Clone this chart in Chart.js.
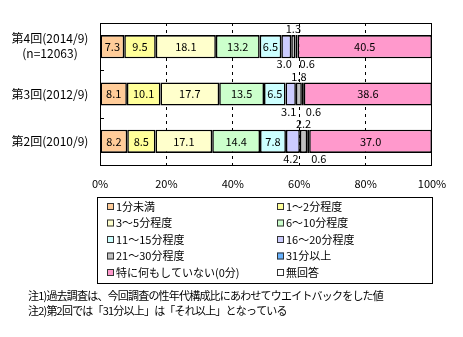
<!DOCTYPE html>
<html><head><meta charset="utf-8">
<script src="https://cdn.jsdelivr.net/npm/chart.js@4/dist/chart.umd.min.js"></script>
<style>html,body{margin:0;padding:0;background:#fff}#wrap{width:463px;height:337px;position:relative}</style>
</head><body><div id="wrap"><canvas id="c" width="463" height="337"></canvas></div>
<script>
const categories = ['第4回(2014/9)', '第3回(2012/9)', '第2回(2010/9)'];
const subLabels = ['(n=12063)', '', ''];
const seriesNames = ['1分未満','1～2分程度','3～5分程度','6～10分程度','11～15分程度','16～20分程度','21～30分程度','31分以上','特に何もしていない(0分)','無回答'];
const under1 = [7.3, 8.1, 8.2];
const m1to2 = [9.5, 10.1, 8.5];
const m3to5 = [18.1, 17.7, 17.1];
const m6to10 = [13.2, 13.5, 14.4];
const m11to15 = [6.5, 6.5, 7.8];
const m16to20 = [3.0, 3.1, 4.2];
const m21to30 = [1.3, 1.8, 2.2];
const m31plus = [0.6, 0.6, 0.6];
const nothing = [40.5, 38.6, 37.0];
const noAnswer = [0, 0, 0];
const xTicks = [0, 20, 40, 60, 80, 100];
const notes = ['注1)過去調査は、今回調査の性年代構成比にあわせてウエイトバックをした値', '注2)第2回では「31分以上」は「それ以上」となっている'];

const colors = ['#FFCC99','#FFFF99','#FFFFCC','#CCFFCC','#CCFFFF','#CCCCFF','#C0C0C0','#66B2FF','#FF99CC','#FFFFFF'];
const seriesValues = [under1,m1to2,m3to5,m6to10,m11to15,m16to20,m21to30,m31plus,nothing,noAnswer];
const FONT = '"Noto Sans CJK JP", "DejaVu Sans", sans-serif';

const datasets = seriesValues.map((v,i)=>({
  label: seriesNames[i], data: v, backgroundColor: colors[i],
  borderColor: '#000', borderWidth: 1.6, borderSkipped: false,
  barPercentage: 0.49, categoryPercentage: 1.0
}));

const decor = {
  id: 'decor',
  beforeDatasetsDraw(chart){
    const {ctx, chartArea:a} = chart;
    ctx.save();
    ctx.strokeStyle = '#000'; ctx.lineWidth = 1;
    ctx.strokeRect(Math.round(a.left)+0.5, Math.round(a.top)+0.5, Math.round(a.right-a.left)-1, Math.round(a.bottom-a.top));
    const ys = chart.scales.y;
    for (let j=1;j<categories.length;j++){
      const y = Math.round((ys.getPixelForValue(j-1)+ys.getPixelForValue(j))/2)+0.5;
      ctx.beginPath(); ctx.moveTo(a.left, y); ctx.lineTo(a.left+4, y); ctx.stroke();
    }
    ctx.restore();
  },
  afterDraw(chart){
    const {ctx, chartArea:a} = chart;
    const ys = chart.scales.y;
    ctx.save();
    ctx.fillStyle = '#000';
    ctx.font = '12px ' + FONT; ctx.textAlign = 'center'; ctx.textBaseline = 'middle';
    categories.forEach((c,j)=>{
      const y = ys.getPixelForValue(j);
      if (subLabels[j]) { ctx.fillText(c, 50, y-8); ctx.fillText(subLabels[j], 50, y+7); }
      else ctx.fillText(c, 50, y);
    });
    ctx.font = '11px ' + FONT;
    chart.data.datasets.forEach((ds,i)=>{
      const meta = chart.getDatasetMeta(i);
      meta.data.forEach((el,j)=>{
        const v = ds.data[j];
        if (!v) return;
        const x0 = Math.min(el.x, el.base), x1 = Math.max(el.x, el.base);
        const cx = (x0+x1)/2, top = el.y - el.height/2, bot = el.y + el.height/2;
        const txt = v.toFixed(1);
        if (v >= 5) { ctx.textAlign='center'; ctx.fillText(txt, cx, el.y); }
        else if (i === 6) { ctx.textAlign='center'; ctx.fillText(txt, cx, top-6); }
        else if (i === 7) { ctx.textAlign='left'; ctx.fillText(txt, cx+3, bot+6); }
        else { ctx.textAlign='center'; ctx.fillText(txt, cx-2, bot+6); }
      });
    });
    ctx.strokeStyle = '#000'; ctx.lineWidth = 1;
    ctx.strokeRect(97.5, 197.5, 335, 86);
    ctx.font = '11px ' + FONT; ctx.textAlign = 'left'; ctx.textBaseline = 'middle';
    chart.data.datasets.forEach((ds,i)=>{
      const col = i % 2, row = Math.floor(i/2);
      const sx = col ? 277 : 107, sy = 206 + row*16.5;
      ctx.fillStyle = ds.backgroundColor;
      ctx.fillRect(sx, sy-3, 7, 7);
      ctx.strokeStyle = '#333';
      ctx.strokeRect(sx+0.5, sy-2.5, 6, 6);
      ctx.fillStyle = '#000';
      ctx.fillText(ds.label, sx+9, sy+0.5);
    });
    if ('letterSpacing' in ctx) ctx.letterSpacing = '-0.8px';
    notes.forEach((n,k)=> ctx.fillText(n, 28, 296 + k*15));
    ctx.restore();
  }
};

new Chart(document.getElementById('c'), {
  type: 'bar',
  data: { labels: categories, datasets },
  plugins: [decor],
  options: {
    indexAxis: 'y', responsive: false, animation: false,
    layout: { padding: { left: 100, right: 31, top: 23, bottom: 0 } },
    plugins: { legend: { display: false }, tooltip: { enabled: false } },
    scales: {
      x: {
        stacked: true, min: 0, max: 100,
        afterBuildTicks: s => { s.ticks = xTicks.map(v=>({value:v})); },
        afterFit: s => { s.height = 172; },
        ticks: { callback: v => v + '%', padding: 12, color: '#000', font: { size: 11, family: FONT }, maxRotation: 0 },
        grid: {
          drawTicks: false,
          color: c => (c.tick && (c.tick.value === 0 || c.tick.value === 100)) ? 'rgba(0,0,0,0)' : '#000',
          lineWidth: 1
        },
        border: { display: false, dash: [3,4] }
      },
      y: {
        stacked: true,
        afterFit: s => { s.width = 0; },
        ticks: { display: false },
        grid: { display: false, drawTicks: false },
        border: { display: false }
      }
    }
  }
});
</script></body></html>
